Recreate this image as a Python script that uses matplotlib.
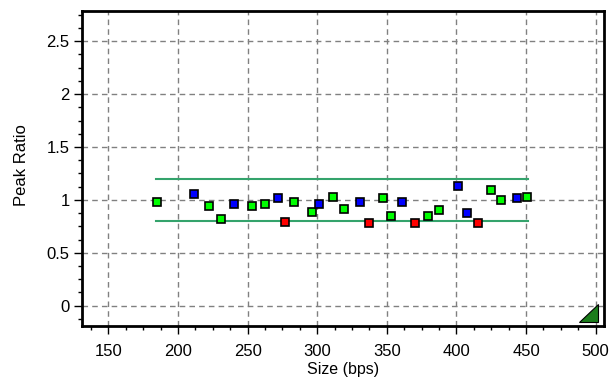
import numpy as np
import matplotlib
matplotlib.use("Agg")
import matplotlib.pyplot as plt
from matplotlib.patches import Polygon
from matplotlib.ticker import MultipleLocator

# peaks: size (bps), peak ratio, colour class
sizes = [184.8, 211.3, 222.4, 231.2, 240.0, 253.4, 262.2, 271.5, 276.5, 283.6,
         296.3, 301.4, 311.4, 319.3, 330.5, 337.0, 347.1, 352.8, 360.9, 370.5,
         379.3, 387.2, 401.0, 407.5, 415.8, 425.1, 432.3, 443.5, 450.9]
ratios = [0.98, 1.06, 0.94, 0.82, 0.96, 0.94, 0.96, 1.02, 0.79, 0.98,
          0.89, 0.96, 1.03, 0.91, 0.98, 0.78, 1.02, 0.85, 0.98, 0.78,
          0.85, 0.90, 1.13, 0.88, 0.78, 1.09, 1.00, 1.02, 1.03]
kinds = ["g", "b", "g", "g", "b", "g", "g", "b", "r", "g",
         "g", "b", "g", "g", "b", "r", "g", "g", "b", "r",
         "g", "g", "b", "b", "r", "g", "g", "b", "g"]

# threshold lines
thr_x = [184.3, 451.6]
thr_upper = 1.2
thr_lower = 0.8

x_ticks = [150, 200, 250, 300, 350, 400, 450, 500]
y_ticks = [0, 0.5, 1, 1.5, 2, 2.5]
y_tick_labels = ["0", "0.5", "1", "1.5", "2", "2.5"]

colors = {"g": "#00ff00", "b": "#0000ff", "r": "#ff0000"}

plt.rcParams['font.family'] = ['Liberation Sans', 'DejaVu Sans']

fig = plt.figure(figsize=(6.09, 3.77), dpi=100)
ax = fig.add_axes([82/609, 1 - 326/377, 522/609, 315/377])

ax.set_xlim(131, 506)
ax.set_ylim(-0.192, 2.786)

ax.grid(True, color="#808080", linestyle=(0, (4, 3)), linewidth=1)
ax.set_axisbelow(True)

ax.plot(thr_x, [thr_upper, thr_upper], color="#34a36c", lw=1.5, zorder=2)
ax.plot(thr_x, [thr_lower, thr_lower], color="#34a36c", lw=1.5, zorder=2)

for x, y, k in zip(sizes, ratios, kinds):
    ax.plot(x, y, marker="s", ms=5.5, mfc=colors[k], mec="black", mew=1.2,
            ls="none", zorder=3)

# corner triangle
tri = Polygon([[0.953, 0.014], [0.988, 0.014], [0.988, 0.069]], closed=True,
              transform=ax.transAxes, facecolor="#1b7d1b", edgecolor="black",
              lw=0.8, zorder=4)
ax.add_patch(tri)

ax.set_xticks(x_ticks)
ax.set_yticks(y_ticks)
ax.set_yticklabels(y_tick_labels)
ax.xaxis.set_minor_locator(MultipleLocator(12.5))
ax.yaxis.set_minor_locator(MultipleLocator(0.125))
ax.tick_params(axis="both", which="major", direction="out", length=6,
               width=1, labelsize=12, colors="black")
ax.tick_params(axis="both", which="minor", direction="out", length=3, width=1)
ax.tick_params(axis="x", pad=7)
ax.tick_params(axis="y", pad=3)

for s in ax.spines.values():
    s.set_linewidth(2)
    s.set_color("black")

ax.set_xlabel("Size (bps)", fontsize=11.5, va="center")
ax.xaxis.set_label_coords(0.5, -0.138)
ax.set_ylabel("Peak Ratio", fontsize=12, va="center")
ax.yaxis.set_label_coords(-0.116, 0.51)

fig.savefig("out.png", dpi=100)
